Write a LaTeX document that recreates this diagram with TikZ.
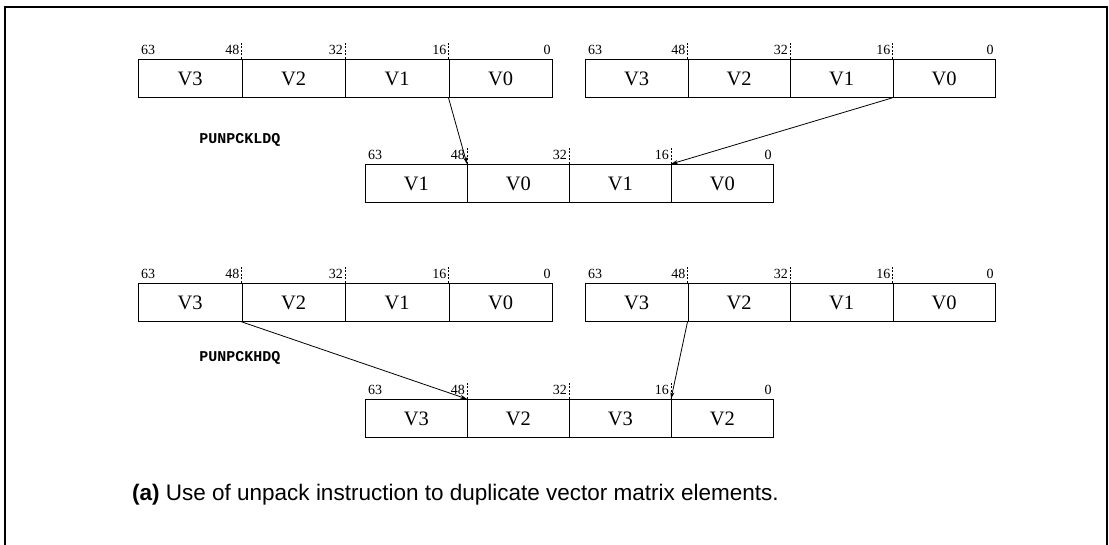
\documentclass[tikz,border=0pt]{standalone}
\usepackage{fontspec}
\setmainfont{Liberation Serif}
\setmonofont{Liberation Mono}
\newfontfamily\capfont{Liberation Sans}
\usetikzlibrary{arrows.meta}
\tikzset{
  cell/.style={draw, line width=0.8pt, rectangle, inner sep=0pt, anchor=north west, font=\fontsize{20.5}{20.5}\selectfont},
  bitlbl/.style={inner sep=0pt, font=\fontsize{14}{14}\selectfont},
  tick/.style={dashed, dash pattern=on 2pt off 1.5pt, line width=0.5pt},
  conn/.style={line width=0.8pt, -{Stealth[length=7pt,width=4pt]}},
  instr/.style={inner sep=0pt, font=\fontsize{15}{15}\selectfont\ttfamily\bfseries},
}
\newcommand\regbox[5]{% name, x, y, cell width, labels
  \foreach \t [count=\i from 0] in {#5} {
    \node[cell, minimum width=#4pt, minimum height=38pt] (#1-\i) at ({#2+\i*#4}, #3) {\t};
  }
  \node[bitlbl, anchor=south west] (#1-l63) at ([shift={(3,-4)}]#1-0.north west) {63};
  \node[bitlbl, anchor=south east] (#1-l48) at ([shift={(-2,-4)}]#1-1.north west) {48};
  \node[bitlbl, anchor=south east] (#1-l32) at ([shift={(-2,-4)}]#1-2.north west) {32};
  \node[bitlbl, anchor=south east] (#1-l16) at ([shift={(-2,-4)}]#1-3.north west) {16};
  \node[bitlbl, anchor=south east] (#1-l0) at ([shift={(-2,-4)}]#1-3.north east) {0};
  \foreach \i in {1,2,3} {
    \draw[tick] (#1-\i.north west) -- ++(0,-16);
  }
}
\begin{document}
\begin{tikzpicture}[x=1pt, y=-1pt]
\useasboundingbox (0,0) rectangle (1109,545);
\draw[line width=1.4pt] (5,545) -- (5,7) -- (1107,7) -- (1107,545);
% PUNPCKLDQ
\regbox{A}{138}{59}{103.5}{V3,V2,V1,V0}
\regbox{B}{585}{59}{102.5}{V3,V2,V1,V0}
\regbox{M}{365}{164}{102}{V1,V0,V1,V0}
\node[instr] (ldq) at (240,140) {PUNPCKLDQ};
\draw[conn] (A-3.south west) -- (M-1.north west);
\draw[conn] (B-3.south west) -- (M-3.north west);
% PUNPCKHDQ
\regbox{C}{138}{283}{103.5}{V3,V2,V1,V0}
\regbox{D}{585}{283}{102.5}{V3,V2,V1,V0}
\regbox{N}{365}{399}{102}{V3,V2,V3,V2}
\node[instr] (hdq) at (240,358) {PUNPCKHDQ};
\draw[conn] (C-1.south west) -- (N-1.north west);
\draw[conn] (D-1.south west) -- (N-3.north west);
% caption
\node[anchor=west, inner sep=0pt, font=\capfont\fontsize{22.5}{22.5}\selectfont] (cap) at (132,495) {\textbf{(a)} Use of unpack instruction to duplicate vector matrix elements.};
\end{tikzpicture}
\end{document}
